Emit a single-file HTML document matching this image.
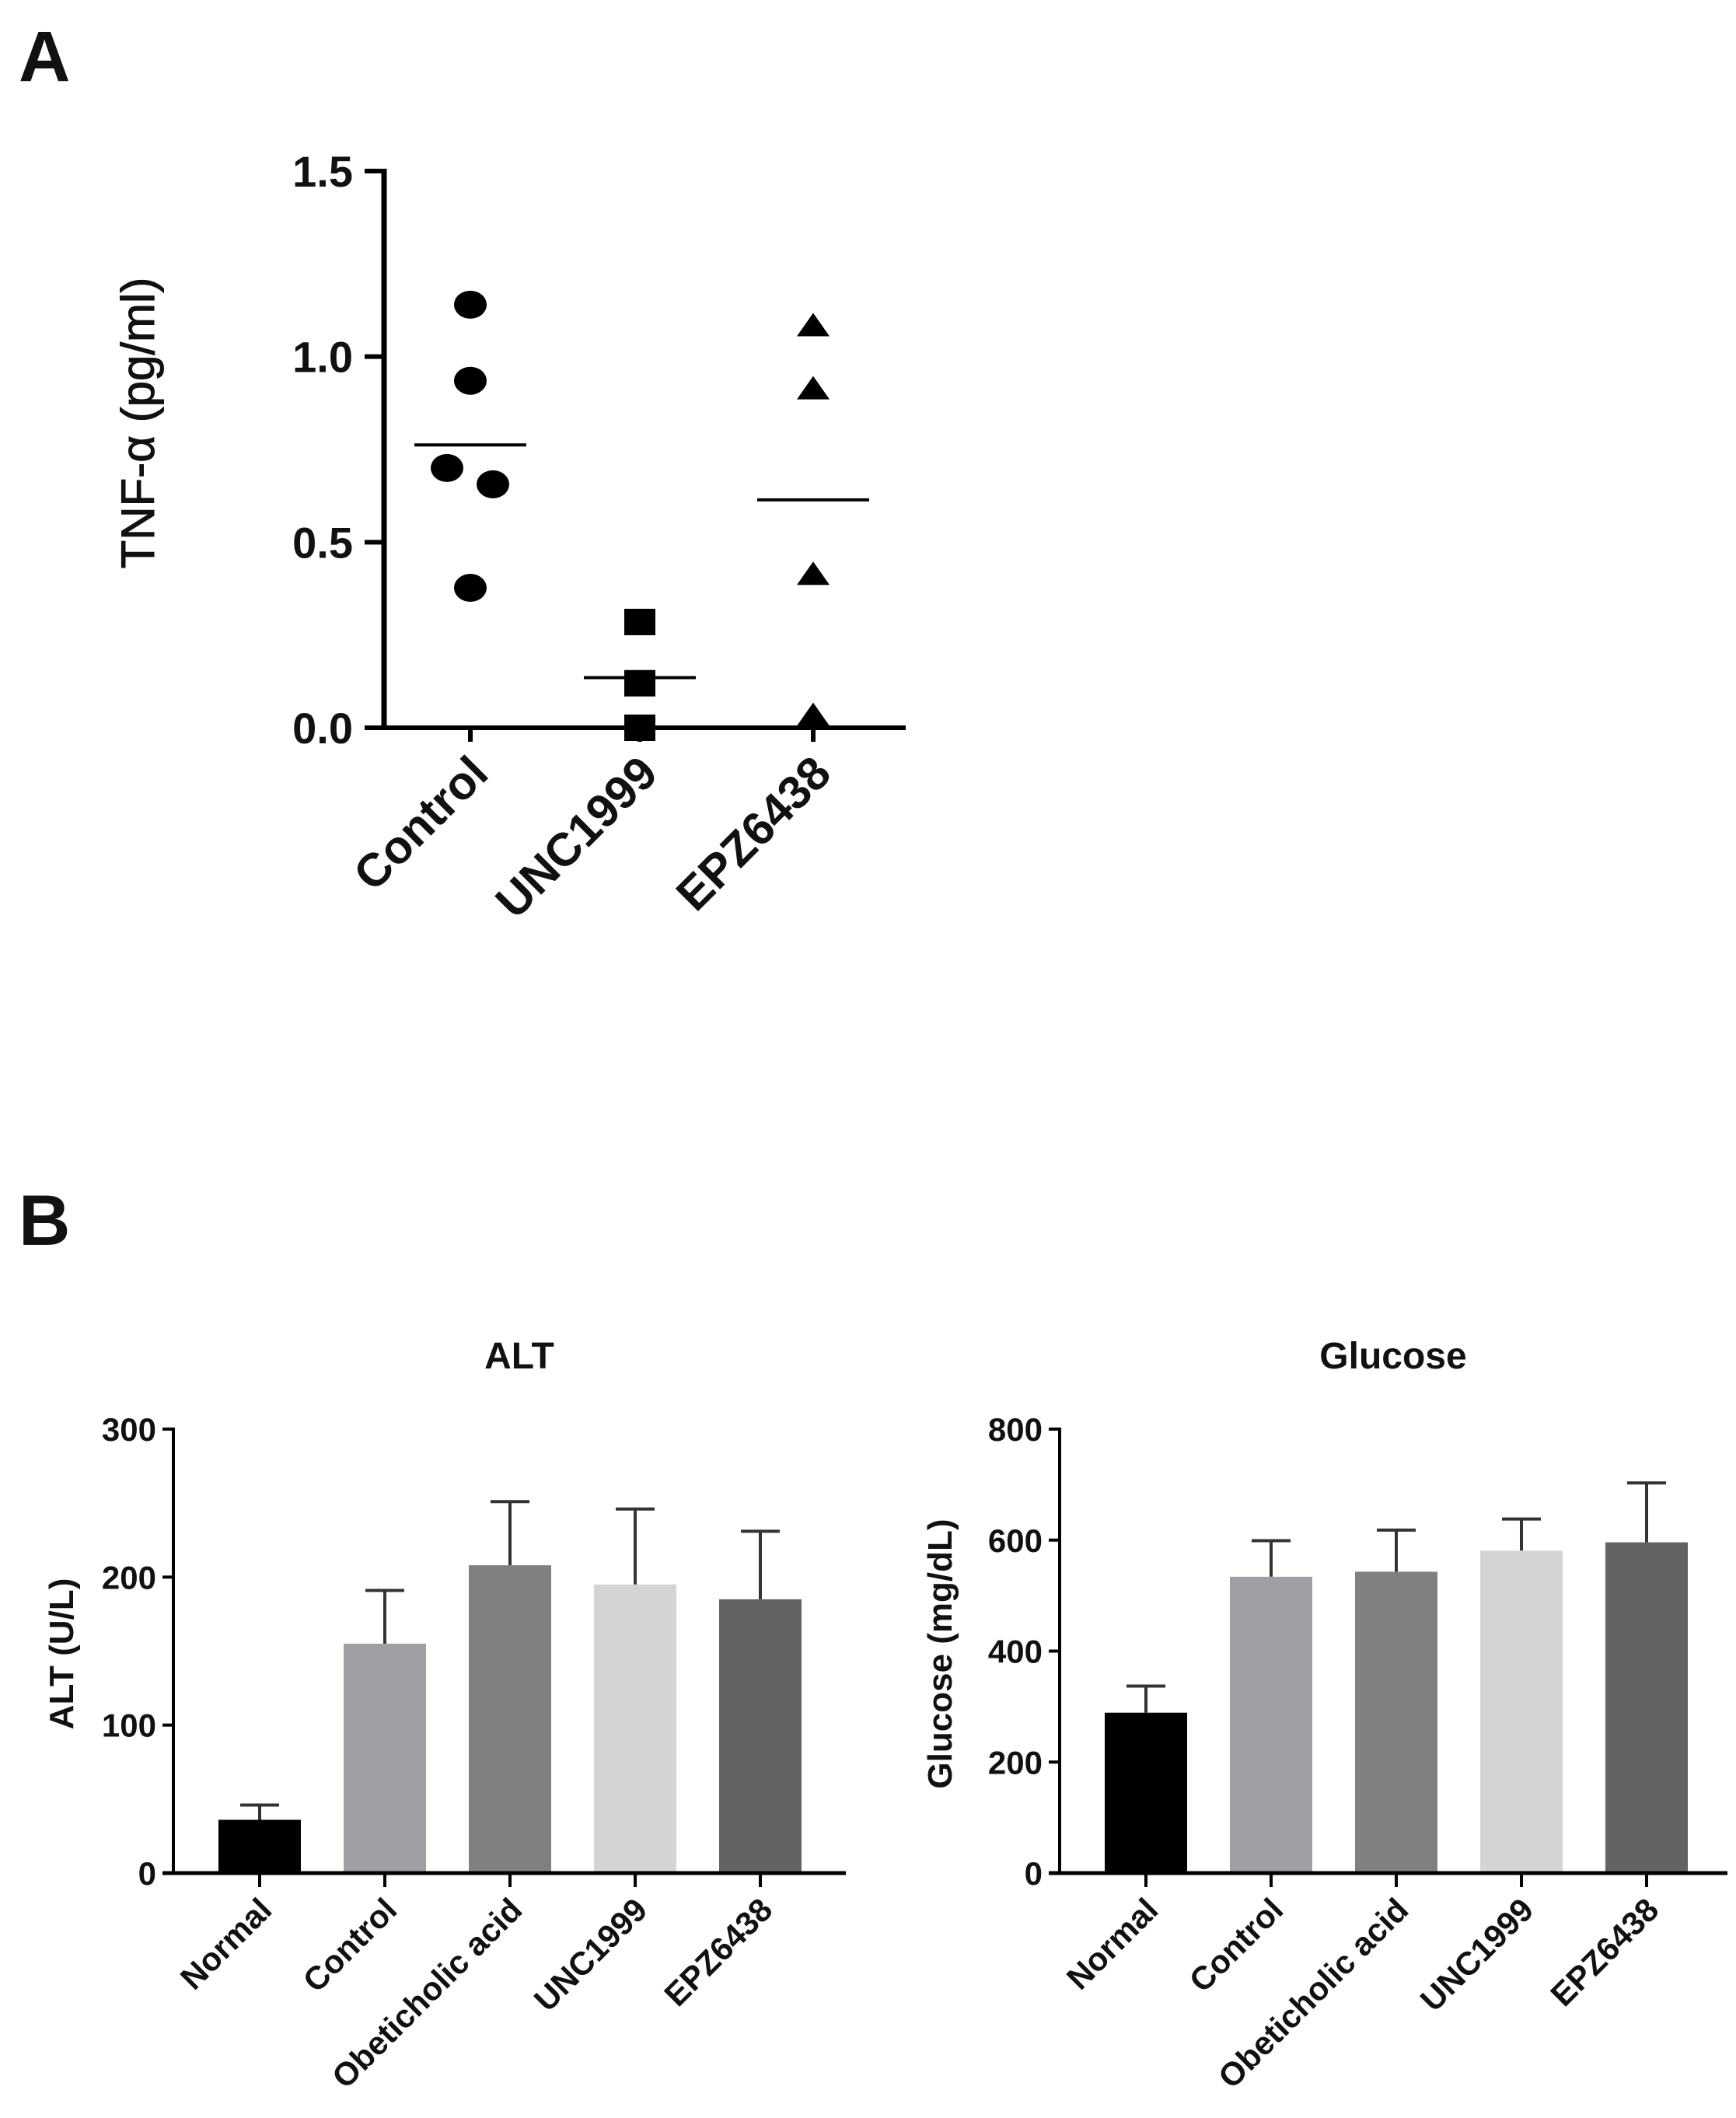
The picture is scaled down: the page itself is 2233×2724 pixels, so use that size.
<!DOCTYPE html>
<html><head><meta charset="utf-8"><style>
html,body{margin:0;padding:0;background:#fff}
svg{display:block}
text{font-family:"Liberation Sans",Arial,sans-serif;fill:#111}
</style></head><body>
<svg id="fig" width="2233" height="2724" viewBox="0 0 2233 2724" xmlns="http://www.w3.org/2000/svg">
<text x="24" y="104" font-size="92" font-weight="bold">A</text>
<text x="24" y="1601" font-size="92" font-weight="bold">B</text>
<g id="pa"></g>
<g id="alt"></g>
<g id="glu"></g>
</svg>
<script>
const scatterCats = ["Control","UNC1999","EPZ6438"];
const controlVals = [1.14, 0.935, 0.70, 0.656, 0.377];
const controlOffsets = [0, 0, -30, 29, 0];
const uncVals = [0.285, 0.12, 0.0];
const epzVals = [1.08, 0.91, 0.41, 0.03];
const scatterMeans = [0.762, 0.135, 0.614];
const scatterTicks = [0, 0.5, 1.0, 1.5];

const barCats = ["Normal","Control","Obeticholic acid","UNC1999","EPZ6438"];
const barColors = ["#000000","#a0a0a4","#808080","#d4d4d4","#636363"];
const altVals = [36, 155, 208, 195, 185];
const altErr = [46, 191, 251, 246, 231];
const altTicks = [0, 100, 200, 300];
const gluVals = [289, 534, 543, 581, 596];
const gluErr = [337, 599, 618, 638, 703];
const gluTicks = [0, 200, 400, 600, 800];

const NS = "http://www.w3.org/2000/svg";
function mk(parent, tag, attrs, txt){
  const e = document.createElementNS(NS, tag);
  for (const k in attrs) e.setAttribute(k, attrs[k]);
  if (txt !== undefined) e.textContent = txt;
  parent.appendChild(e);
  return e;
}

// ---------- Panel A ----------
(function(){
  const g = document.getElementById('pa');
  const x0 = 494, x1 = 1165, yTop = 220, yBot = 936, vmax = 1.5;
  const y = v => yBot - v / vmax * (yBot - yTop);
  const cx = [605, 823, 1046];
  let e;
  e = mk(g,'line',{x1:x0,y1:yTop-3,x2:x0,y2:yBot+3,stroke:'#000','stroke-width':7});
  
  
  e = mk(g,'line',{x1:x0-3,y1:yBot,x2:x1,y2:yBot,stroke:'#000','stroke-width':6});
  
  
  scatterTicks.forEach(t=>{
    const tk = mk(g,'line',{x1:x0-25,y1:y(t),x2:x0,y2:y(t),stroke:'#000','stroke-width':6});
    
    
    const lb = mk(g,'text',{x:x0-40,y:y(t)+20,'font-size':56,'font-weight':'bold','text-anchor':'end'}, t.toFixed(1));
    
    
  });
  scatterCats.forEach((c,i)=>{
    const tk = mk(g,'line',{x1:cx[i],y1:yBot,x2:cx[i],y2:yBot+18,stroke:'#000','stroke-width':6});
    
    
    const lb = mk(g,'text',{x:0,y:0,'font-size':60,'font-weight':'bold','text-anchor':'end',
      transform:`translate(${cx[i]+26},${yBot+62}) rotate(-45)`}, c);
    
    
  });
  const yl = mk(g,'text',{x:0,y:0,'font-size':60,'text-anchor':'middle',stroke:'#111','stroke-width':1,transform:'translate(198,544) rotate(-90)'},'TNF-α (pg/ml)');
  
  
  controlVals.forEach((v,i)=>{
    const m = mk(g,'ellipse',{cx:cx[0]+controlOffsets[i],cy:y(v),rx:21,ry:18,fill:'#000'});
    
    
  });
  uncVals.forEach(v=>{
    const m = mk(g,'rect',{x:cx[1]-20,y:y(v)-17,width:40,height:34,fill:'#000'});
    
    
  });
  epzVals.forEach(v=>{
    const yy = y(v);
    const m = mk(g,'polygon',{points:`${cx[2]-21},${yy+12} ${cx[2]+21},${yy+12} ${cx[2]},${yy-18}`,fill:'#000'});
    
    
  });
  scatterMeans.forEach((v,i)=>{
    const m = mk(g,'line',{x1:cx[i]-72,y1:y(v),x2:cx[i]+72,y2:y(v),stroke:'#000','stroke-width':4});
    
    
  });
})();

// ---------- Bar charts ----------
function barChart(id, x0, x1, vals, errs, ticks, vmax, title, titleX, ylab, ylabX){
  const g = document.getElementById(id);
  const yTop = 1838, yBot = 2409;
  const y = v => yBot - v / vmax * (yBot - yTop);
  const first = x0 + 111, step = 161, bw = 106;
  let e;
  e = mk(g,'text',{x:titleX,y:1760,'font-size':48,'font-weight':'bold','text-anchor':'middle'},title);
  
  
  e = mk(g,'text',{x:0,y:0,'font-size':44,'font-weight':'bold','text-anchor':'middle',transform:`translate(${ylabX},2127) rotate(-90)`},ylab);
  
  
  vals.forEach((v,i)=>{
    const c = first + i*step;
    const eb = mk(g,'line',{x1:c,y1:y(errs[i]),x2:c,y2:y(v),stroke:'#333','stroke-width':4});
    
    
    const cap = mk(g,'line',{x1:c-25,y1:y(errs[i]),x2:c+25,y2:y(errs[i]),stroke:'#333','stroke-width':4});
    
    
    const r = mk(g,'rect',{x:c-bw/2,y:y(v),width:bw,height:yBot-y(v),fill:barColors[i]});
    
    
    const tk = mk(g,'line',{x1:c,y1:yBot,x2:c,y2:yBot+18,stroke:'#000','stroke-width':4});
    
    
    const lb = mk(g,'text',{x:0,y:0,'font-size':42,'font-weight':'bold','text-anchor':'end',
      transform:`translate(${c+18},${yBot+50}) rotate(-45)`},barCats[i]);
    
    
  });
  e = mk(g,'line',{x1:x0,y1:yTop-2,x2:x0,y2:yBot+2,stroke:'#000','stroke-width':4});
  
  
  e = mk(g,'line',{x1:x0-14,y1:yBot,x2:x1,y2:yBot,stroke:'#000','stroke-width':5});
  
  
  ticks.forEach(t=>{
    const tk = mk(g,'line',{x1:x0-14,y1:y(t),x2:x0,y2:y(t),stroke:'#000','stroke-width':4});
    
    
    const lb = mk(g,'text',{x:x0-22,y:y(t)+15,'font-size':42,'font-weight':'bold','text-anchor':'end'},String(t));
    
    
  });
}
barChart('alt', 223, 1088, altVals, altErr, altTicks, 300, 'ALT', 668, 'ALT (U/L)', 94);
barChart('glu', 1363, 2222, gluVals, gluErr, gluTicks, 800, 'Glucose', 1792, 'Glucose (mg/dL)', 1224);
</script>
</body></html>
